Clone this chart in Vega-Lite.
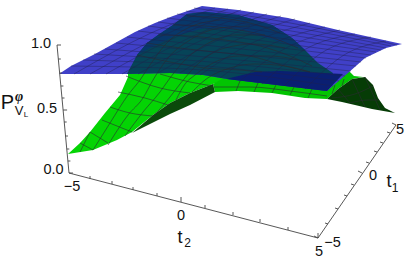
{"$schema":"https://vega.github.io/schema/vega-lite/v6.json","width":409,"height":264,"padding":0,"autosize":{"type":"none"},"background":"white","view":{"stroke":null},
"config":{"axis":{"domain":false},"text":{"font":"Liberation Sans","color":"#111111"}},
"encoding":{"x":{"field":"x","type":"quantitative","scale":{"domain":[0,409],"nice":false,"zero":false},"axis":null},"y":{"field":"y","type":"quantitative","scale":{"domain":[264,0],"nice":false,"zero":false},"axis":null}},
"layer":[
{"data":{"values":[
{"r":"b_lit","i":0,"x":68,"y":154},{"r":"b_lit","i":1,"x":80,"y":143},{"r":"b_lit","i":2,"x":90,"y":132},{"r":"b_lit","i":3,"x":105,"y":113},{"r":"b_lit","i":4,"x":120,"y":95},{"r":"b_lit","i":5,"x":128,"y":77},{"r":"b_lit","i":6,"x":128,"y":72},{"r":"b_lit","i":7,"x":170,"y":70},{"r":"b_lit","i":8,"x":203,"y":72},{"r":"b_lit","i":9,"x":227,"y":76},{"r":"b_lit","i":10,"x":227,"y":79},{"r":"b_lit","i":11,"x":213,"y":84},{"r":"b_lit","i":12,"x":190,"y":93},{"r":"b_lit","i":13,"x":170,"y":103},{"r":"b_lit","i":14,"x":153,"y":115},{"r":"b_lit","i":15,"x":132,"y":132},{"r":"b_lit","i":16,"x":117,"y":140},{"r":"b_lit","i":17,"x":93,"y":150},{"r":"b_lit","i":18,"x":68,"y":154},
{"r":"c_strip","i":0,"x":213,"y":84},{"r":"c_strip","i":1,"x":227,"y":76},{"r":"c_strip","i":2,"x":285,"y":82},{"r":"c_strip","i":3,"x":327,"y":87},{"r":"c_strip","i":4,"x":348,"y":70},{"r":"c_strip","i":5,"x":354,"y":76},{"r":"c_strip","i":6,"x":363,"y":77},{"r":"c_strip","i":7,"x":352,"y":79},{"r":"c_strip","i":8,"x":338,"y":89},{"r":"c_strip","i":9,"x":327,"y":99},{"r":"c_strip","i":10,"x":305,"y":98},{"r":"c_strip","i":11,"x":272,"y":93},{"r":"c_strip","i":12,"x":238,"y":91},{"r":"c_strip","i":13,"x":215,"y":92},
{"r":"d_dark","i":0,"x":132,"y":133},{"r":"d_dark","i":1,"x":153,"y":115},{"r":"d_dark","i":2,"x":170,"y":103},{"r":"d_dark","i":3,"x":190,"y":93},{"r":"d_dark","i":4,"x":213,"y":84},{"r":"d_dark","i":5,"x":215,"y":92},{"r":"d_dark","i":6,"x":190,"y":105},{"r":"d_dark","i":7,"x":170,"y":114},{"r":"d_dark","i":8,"x":150,"y":124},
{"r":"e_hump","i":0,"x":327,"y":99},{"r":"e_hump","i":1,"x":338,"y":89},{"r":"e_hump","i":2,"x":352,"y":79},{"r":"e_hump","i":3,"x":365,"y":77},{"r":"e_hump","i":4,"x":373,"y":85},{"r":"e_hump","i":5,"x":378,"y":98},{"r":"e_hump","i":6,"x":385,"y":108},{"r":"e_hump","i":7,"x":395,"y":113},{"r":"e_hump","i":8,"x":372,"y":109},{"r":"e_hump","i":9,"x":355,"y":105},{"r":"e_hump","i":10,"x":342,"y":102},
{"r":"a_blue","i":0,"x":59,"y":74},{"r":"a_blue","i":1,"x":71,"y":66},{"r":"a_blue","i":2,"x":95,"y":54},{"r":"a_blue","i":3,"x":115,"y":43},{"r":"a_blue","i":4,"x":135,"y":32},{"r":"a_blue","i":5,"x":155,"y":23},{"r":"a_blue","i":6,"x":173,"y":16},{"r":"a_blue","i":7,"x":202,"y":6},{"r":"a_blue","i":8,"x":238,"y":10},{"r":"a_blue","i":9,"x":288,"y":18},{"r":"a_blue","i":10,"x":338,"y":30},{"r":"a_blue","i":11,"x":402,"y":44},{"r":"a_blue","i":12,"x":386,"y":48},{"r":"a_blue","i":13,"x":365,"y":58},{"r":"a_blue","i":14,"x":348,"y":73},{"r":"a_blue","i":15,"x":327,"y":91},{"r":"a_blue","i":16,"x":285,"y":86},{"r":"a_blue","i":17,"x":227,"y":79},{"r":"a_blue","i":18,"x":203,"y":75},{"r":"a_blue","i":19,"x":170,"y":73},{"r":"a_blue","i":20,"x":127,"y":74},{"r":"a_blue","i":21,"x":59,"y":74},
{"r":"f_teal","i":0,"x":127,"y":74},{"r":"f_teal","i":1,"x":128,"y":72},{"r":"f_teal","i":2,"x":137,"y":55},{"r":"f_teal","i":3,"x":147,"y":43},{"r":"f_teal","i":4,"x":158,"y":35},{"r":"f_teal","i":5,"x":173,"y":25},{"r":"f_teal","i":6,"x":187,"y":14},{"r":"f_teal","i":7,"x":205,"y":12},{"r":"f_teal","i":8,"x":238,"y":15},{"r":"f_teal","i":9,"x":272,"y":25},{"r":"f_teal","i":10,"x":292,"y":38},{"r":"f_teal","i":11,"x":305,"y":50},{"r":"f_teal","i":12,"x":318,"y":63},{"r":"f_teal","i":13,"x":333,"y":73},{"r":"f_teal","i":14,"x":327,"y":91},{"r":"f_teal","i":15,"x":285,"y":86},{"r":"f_teal","i":16,"x":227,"y":79},{"r":"f_teal","i":17,"x":203,"y":75},{"r":"f_teal","i":18,"x":170,"y":73},
{"r":"h_deep","i":0,"x":137,"y":55},{"r":"h_deep","i":1,"x":147,"y":43},{"r":"h_deep","i":2,"x":158,"y":35},{"r":"h_deep","i":3,"x":173,"y":25},{"r":"h_deep","i":4,"x":187,"y":14},{"r":"h_deep","i":5,"x":205,"y":12},{"r":"h_deep","i":6,"x":238,"y":15},{"r":"h_deep","i":7,"x":272,"y":25},{"r":"h_deep","i":8,"x":292,"y":38},{"r":"h_deep","i":9,"x":305,"y":50},{"r":"h_deep","i":10,"x":280,"y":42},{"r":"h_deep","i":11,"x":240,"y":30},{"r":"h_deep","i":12,"x":205,"y":28},{"r":"h_deep","i":13,"x":175,"y":36},{"r":"h_deep","i":14,"x":150,"y":48},
{"r":"g_navy","i":0,"x":230,"y":78},{"r":"g_navy","i":1,"x":255,"y":72},{"r":"g_navy","i":2,"x":280,"y":71},{"r":"g_navy","i":3,"x":305,"y":72},{"r":"g_navy","i":4,"x":343,"y":74},{"r":"g_navy","i":5,"x":327,"y":91},{"r":"g_navy","i":6,"x":285,"y":86},{"r":"g_navy","i":7,"x":227,"y":79}
]},
"mark":{"type":"line","strokeWidth":0,"interpolate":"linear"},
"encoding":{"detail":{"field":"r"},"order":{"field":"i","type":"quantitative"},
"fill":{"field":"r","type":"nominal","legend":null,"scale":{"domain":["a_blue","b_lit","c_strip","d_dark","e_hump","f_teal","g_navy","h_deep"],"range":["#4040c8","#04d404","#02c402","#0a4a0a","#063c06","#064458","#0a1f72","#08386a"]}}}},
{"data":{"values":[
{"id":"g1","x":80,"y":143},{"id":"g1","x":93,"y":150},{"id":"g2","x":90,"y":132},{"id":"g2","x":108,"y":143},{"id":"g3","x":102,"y":120},{"id":"g3","x":132,"y":132},{"id":"g4","x":110,"y":107},{"id":"g4","x":130,"y":113},{"id":"g4","x":153,"y":116},{"id":"g5","x":118,"y":92},{"id":"g5","x":145,"y":98},{"id":"g5","x":168,"y":105},{"id":"g6","x":126,"y":76},{"id":"g6","x":160,"y":88},{"id":"g6","x":190,"y":93},{"id":"g7","x":160,"y":74},{"id":"g7","x":190,"y":82},{"id":"g7","x":213,"y":86},
{"id":"g8","x":137,"y":55},{"id":"g8","x":170,"y":62},{"id":"g8","x":205,"y":68},{"id":"g8","x":240,"y":70},{"id":"g8","x":262,"y":72},
{"id":"g9","x":147,"y":43},{"id":"g9","x":180,"y":48},{"id":"g9","x":215,"y":52},{"id":"g9","x":250,"y":56},{"id":"g9","x":285,"y":66},{"id":"g9","x":310,"y":72},
{"id":"g10","x":158,"y":35},{"id":"g10","x":190,"y":36},{"id":"g10","x":225,"y":40},{"id":"g10","x":260,"y":46},{"id":"g10","x":290,"y":56},{"id":"g10","x":312,"y":66},
{"id":"g11","x":173,"y":25},{"id":"g11","x":205,"y":26},{"id":"g11","x":240,"y":30},{"id":"g11","x":270,"y":37},{"id":"g11","x":298,"y":48},
{"id":"g12","x":187,"y":16},{"id":"g12","x":220,"y":18},{"id":"g12","x":250,"y":23},{"id":"g12","x":280,"y":33},
{"id":"q1","x":80,"y":152},{"id":"q1","x":90,"y":132},
{"id":"q2","x":93,"y":150},{"id":"q2","x":110,"y":123},{"id":"q2","x":128,"y":95},{"id":"q2","x":140,"y":80},{"id":"q2","x":150,"y":65},{"id":"q2","x":165,"y":45},{"id":"q2","x":190,"y":27},{"id":"q2","x":220,"y":20},
{"id":"q3","x":108,"y":145},{"id":"q3","x":128,"y":115},{"id":"q3","x":143,"y":98},{"id":"q3","x":153,"y":80},{"id":"q3","x":168,"y":58},{"id":"q3","x":190,"y":40},{"id":"q3","x":220,"y":28},{"id":"q3","x":250,"y":26},
{"id":"q4","x":125,"y":136},{"id":"q4","x":143,"y":112},{"id":"q4","x":160,"y":92},{"id":"q4","x":170,"y":78},{"id":"q4","x":185,"y":60},{"id":"q4","x":205,"y":45},{"id":"q4","x":235,"y":35},{"id":"q4","x":265,"y":35},
{"id":"q5","x":153,"y":117},{"id":"q5","x":170,"y":97},{"id":"q5","x":180,"y":84},{"id":"q5","x":200,"y":62},{"id":"q5","x":225,"y":48},{"id":"q5","x":255,"y":44},{"id":"q5","x":285,"y":48},
{"id":"q6","x":176,"y":100},{"id":"q6","x":185,"y":84},{"id":"q6","x":195,"y":75},{"id":"q6","x":215,"y":62},{"id":"q6","x":240,"y":56},{"id":"q6","x":270,"y":56},{"id":"q6","x":298,"y":60},
{"id":"q7","x":192,"y":92},{"id":"q7","x":205,"y":80},{"id":"q7","x":230,"y":68},{"id":"q7","x":255,"y":64},{"id":"q7","x":285,"y":66},{"id":"q7","x":310,"y":72},
{"id":"s1","x":214,"y":87},{"id":"s1","x":250,"y":87},{"id":"s1","x":290,"y":91},{"id":"s1","x":327,"y":96},
{"id":"s2","x":240,"y":81},{"id":"s2","x":236,"y":91},{"id":"s3","x":258,"y":83},{"id":"s3","x":254,"y":92},{"id":"s4","x":276,"y":85},{"id":"s4","x":272,"y":93},{"id":"s5","x":294,"y":87},{"id":"s5","x":290,"y":95},{"id":"s6","x":312,"y":89},{"id":"s6","x":308,"y":98},
{"id":"s7","x":335,"y":85},{"id":"s7","x":332,"y":94},{"id":"s8","x":344,"y":79},{"id":"s8","x":342,"y":86},
{"id":"h1","x":338,"y":89},{"id":"h1","x":350,"y":103},{"id":"h2","x":352,"y":79},{"id":"h2","x":365,"y":107},{"id":"h3","x":365,"y":77},{"id":"h3","x":380,"y":110},
{"id":"h4","x":332,"y":98},{"id":"h4","x":355,"y":94},{"id":"h4","x":373,"y":86},{"id":"h5","x":350,"y":103},{"id":"h5","x":368,"y":100},{"id":"h5","x":379,"y":100}
]},"mark":{"type":"line","stroke":"#2a2a30","strokeWidth":0.8,"strokeOpacity":0.75,"interpolate":"monotone"},"encoding":{"detail":{"field":"id"}}},
{"data":{"values":[
{"id":"a1","x":71,"y":66},{"id":"a1","x":187,"y":69},{"id":"a1","x":333,"y":86},
{"id":"a2","x":83,"y":60},{"id":"a2","x":193,"y":65},{"id":"a2","x":339,"y":81},
{"id":"a3","x":94,"y":54},{"id":"a3","x":199,"y":61},{"id":"a3","x":345,"y":76},
{"id":"a4","x":105,"y":49},{"id":"a4","x":206,"y":57},{"id":"a4","x":351,"y":71},
{"id":"a5","x":116,"y":43},{"id":"a5","x":214,"y":52},{"id":"a5","x":356,"y":66},
{"id":"a6","x":127,"y":37},{"id":"a6","x":223,"y":47},{"id":"a6","x":361,"y":62},
{"id":"a7","x":138,"y":31},{"id":"a7","x":232,"y":42},{"id":"a7","x":366,"y":58},
{"id":"a8","x":148,"y":26},{"id":"a8","x":241,"y":38},{"id":"a8","x":371,"y":55},
{"id":"a9","x":158,"y":22},{"id":"a9","x":250,"y":34},{"id":"a9","x":376,"y":52},
{"id":"a10","x":167,"y":18},{"id":"a10","x":258,"y":30},{"id":"a10","x":381,"y":50},
{"id":"a11","x":177,"y":14},{"id":"a11","x":267,"y":27},{"id":"a11","x":386,"y":48},
{"id":"a12","x":186,"y":11},{"id":"a12","x":275,"y":24},{"id":"a12","x":391,"y":46},
{"id":"a13","x":194,"y":8},{"id":"a13","x":285,"y":22},{"id":"a13","x":397,"y":45},
{"id":"b1","x":74,"y":74},{"id":"b1","x":151,"y":33},{"id":"b1","x":215,"y":8},
{"id":"b2","x":90,"y":74},{"id":"b2","x":164,"y":35},{"id":"b2","x":228,"y":9},
{"id":"b3","x":106,"y":74},{"id":"b3","x":178,"y":36},{"id":"b3","x":241,"y":10},
{"id":"b4","x":122,"y":74},{"id":"b4","x":191,"y":37},{"id":"b4","x":254,"y":12},
{"id":"b5","x":138,"y":74},{"id":"b5","x":204,"y":39},{"id":"b5","x":267,"y":14},
{"id":"b6","x":158,"y":73},{"id":"b6","x":218,"y":40},{"id":"b6","x":281,"y":16},
{"id":"b7","x":180,"y":73},{"id":"b7","x":232,"y":42},{"id":"b7","x":295,"y":19},
{"id":"b8","x":200,"y":75},{"id":"b8","x":250,"y":44},{"id":"b8","x":310,"y":23},
{"id":"b9","x":220,"y":78},{"id":"b9","x":268,"y":46},{"id":"b9","x":325,"y":27},
{"id":"b10","x":240,"y":81},{"id":"b10","x":286,"y":48},{"id":"b10","x":340,"y":30},
{"id":"b11","x":262,"y":84},{"id":"b11","x":304,"y":50},{"id":"b11","x":355,"y":34},
{"id":"b12","x":284,"y":86},{"id":"b12","x":323,"y":52},{"id":"b12","x":371,"y":37},
{"id":"b13","x":305,"y":89},{"id":"b13","x":344,"y":55},{"id":"b13","x":386,"y":41}
]},"mark":{"type":"line","stroke":"#20204a","strokeWidth":0.7,"strokeOpacity":0.6,"interpolate":"monotone"},"encoding":{"detail":{"field":"id"}}},
{"data":{"values":[
{"x":57,"y":45,"x2":69,"y2":173},{"x":69,"y":173,"x2":318,"y2":238},{"x":318,"y":238,"x2":396,"y2":125},
{"x":57,"y":45,"x2":61,"y2":45},{"x":58.3,"y":59,"x2":60.8,"y2":59},{"x":59.6,"y":73,"x2":62.1,"y2":73},{"x":60.9,"y":86,"x2":63.4,"y2":86},{"x":62,"y":98,"x2":64.5,"y2":98},{"x":63.1,"y":110,"x2":67.1,"y2":110},{"x":64.2,"y":122,"x2":66.7,"y2":122},{"x":65.5,"y":136,"x2":68,"y2":136},{"x":66.8,"y":149,"x2":69.3,"y2":149},{"x":67.9,"y":161,"x2":70.4,"y2":161},{"x":69,"y":173,"x2":73,"y2":173},
{"x":90,"y":179,"x2":90,"y2":176},{"x":112,"y":184,"x2":112,"y2":181},{"x":133,"y":190,"x2":133,"y2":187},{"x":157,"y":196,"x2":157,"y2":193},{"x":181,"y":202,"x2":181,"y2":197},{"x":205,"y":208,"x2":205,"y2":205},{"x":233,"y":215,"x2":233,"y2":212},{"x":260,"y":222,"x2":260,"y2":219},{"x":288,"y":230,"x2":288,"y2":227},{"x":318,"y":238,"x2":318,"y2":233},
{"x":318,"y":238,"x2":314,"y2":236},{"x":328,"y":224,"x2":325,"y2":223},{"x":338,"y":209,"x2":335,"y2":208},{"x":347,"y":196,"x2":344,"y2":195},{"x":354,"y":185,"x2":351,"y2":184},{"x":362,"y":173,"x2":358,"y2":171},{"x":369,"y":163,"x2":366,"y2":162},{"x":377,"y":152,"x2":374,"y2":151},{"x":383,"y":143,"x2":380,"y2":142},{"x":390,"y":133,"x2":387,"y2":132},{"x":396,"y":125,"x2":392,"y2":123}
]},"mark":{"type":"rule","stroke":"#444444","strokeWidth":0.9},"encoding":{"x2":{"field":"x2"},"y2":{"field":"y2"}}},
{"data":{"values":[{"x":41,"y":44,"t":"1.0"},{"x":47,"y":109,"t":"0.5"},{"x":53.5,"y":170,"t":"0.0"},{"x":72,"y":187,"t":"−5"},{"x":181,"y":216,"t":"0"},{"x":319,"y":252,"t":"5"},{"x":332.5,"y":243,"t":"−5"},{"x":373,"y":176,"t":"0"},{"x":400,"y":130,"t":"5"}]},"mark":{"type":"text","fontSize":14.5,"baseline":"middle","align":"center"},"encoding":{"text":{"field":"t"}}},
{"data":{"values":[{"x":180,"y":238,"t":"t"},{"x":389,"y":182,"t":"t"}]},"mark":{"type":"text","fontSize":18,"baseline":"middle","align":"center"},"encoding":{"text":{"field":"t"}}},
{"data":{"values":[{"x":187.5,"y":243,"t":"2"},{"x":395,"y":188,"t":"1"}]},"mark":{"type":"text","fontSize":12,"baseline":"middle","align":"center"},"encoding":{"text":{"field":"t"}}},
{"data":{"values":[{"x":7.5,"y":103,"t":"P"}]},"mark":{"type":"text","fontSize":20,"baseline":"middle","align":"center"},"encoding":{"text":{"field":"t"}}},
{"data":{"values":[{"x":19,"y":110.5,"t":"V"}]},"mark":{"type":"text","fontSize":13,"baseline":"middle","align":"center"},"encoding":{"text":{"field":"t"}}},
{"data":{"values":[{"x":26,"y":114.5,"t":"L"}]},"mark":{"type":"text","fontSize":8,"baseline":"middle","align":"center"},"encoding":{"text":{"field":"t"}}},
{"data":{"values":[{"x":19,"y":97,"t":"φ"}]},"mark":{"type":"text","font":"Liberation Serif","fontStyle":"italic","fontWeight":"bold","fontSize":14,"baseline":"middle","align":"center"},"encoding":{"text":{"field":"t"}}}
]}
